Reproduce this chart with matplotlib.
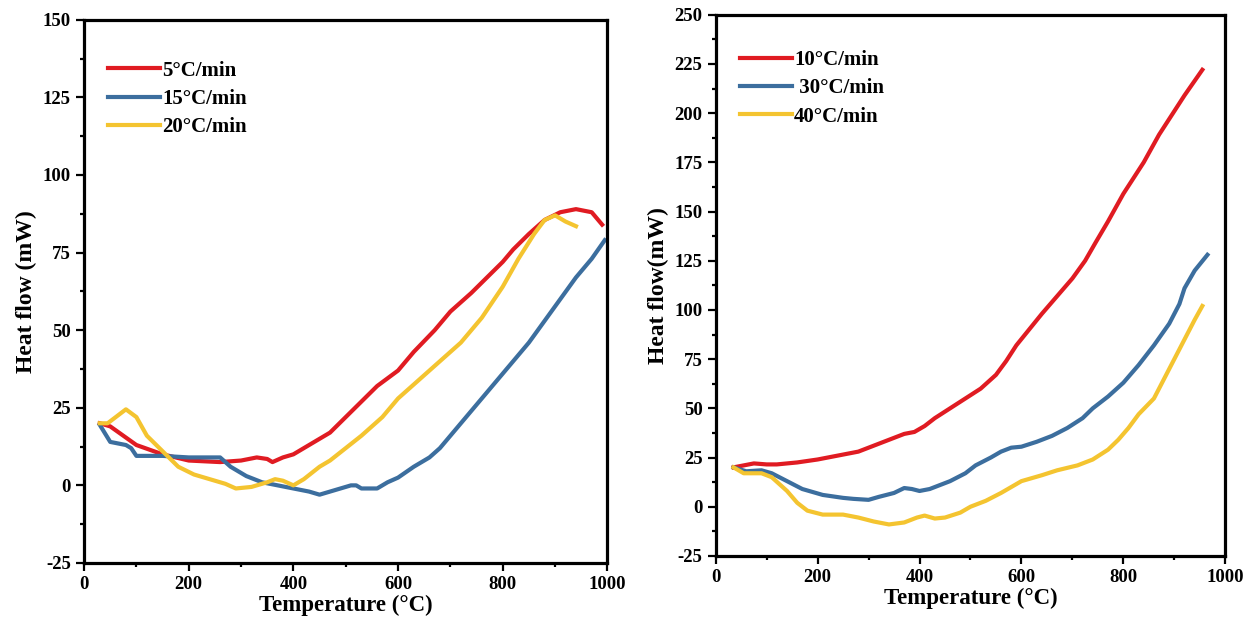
import numpy as np
import matplotlib
matplotlib.use("Agg")
import matplotlib.pyplot as plt
from matplotlib.ticker import MultipleLocator

plt.rcParams["font.family"] = ["Liberation Serif", "DejaVu Serif"]
plt.rcParams["font.weight"] = "bold"
plt.rcParams["axes.unicode_minus"] = False

RED = "#e01b22"
BLUE = "#3c6e9e"
YELLOW = "#f4c430"

# Left panel: 5, 15, 20 C/min
t_5 = [30, 50, 100, 150, 200, 260, 300, 330, 350, 360, 380, 400, 440, 470, 500, 530, 560,
       600, 630, 670, 700, 740, 770, 800, 820, 850, 880, 910, 940, 970, 990]
hf_5 = [20, 19, 13, 10, 8, 7.5, 8, 9, 8.5, 7.5, 9, 10, 14, 17, 22, 27, 32,
        37, 43, 50, 56, 62, 67, 72, 76, 81, 85.5, 88, 89, 88, 84]

t_15 = [30, 50, 80, 90, 100, 150, 200, 260, 280, 310, 340, 370, 400, 430, 450, 470, 490,
        510, 520, 530, 560, 580, 600, 630, 660, 680, 710, 740, 770, 800, 820, 850, 880,
        910, 940, 970, 995]
hf_15 = [19.5, 14, 13, 12, 9.5, 9.5, 9, 9, 6, 3, 1, 0, -1, -2, -3, -2, -1,
         0, 0, -1, -1, 1, 2.5, 6, 9, 12, 18, 24, 30, 36, 40, 46, 53,
         60, 67, 73, 79]

t_20 = [30, 45, 80, 100, 120, 150, 180, 210, 240, 270, 290, 320, 350, 365, 380, 400, 420,
        450, 470, 500, 530, 570, 600, 640, 680, 720, 760, 800, 830, 860, 880, 900, 920, 940]
hf_20 = [20, 20, 24.5, 22, 16, 11, 6, 3.5, 2, 0.5, -1, -0.5, 1, 2, 1.5, 0, 2,
         6, 8, 12, 16, 22, 28, 34, 40, 46, 54, 64, 73, 81, 85.5, 87, 85, 83.5]

# Right panel: 10, 30, 40 C/min
t_10 = [35, 75, 100, 120, 160, 200, 240, 280, 310, 340, 370, 390, 410, 430, 460, 490, 520,
        550, 570, 590, 615, 640, 670, 700, 725, 745, 770, 800, 840, 870, 900, 920, 955]
hf_10 = [20, 22, 21.5, 21.5, 22.5, 24, 26, 28, 31, 34, 37, 38, 41, 45, 50, 55, 60,
         67, 74, 82, 90, 98, 107, 116, 125, 134, 145, 159, 175, 189, 201, 209, 222]

t_30 = [35, 60, 90, 110, 140, 170, 210, 250, 270, 300, 320, 350, 370, 385, 400, 420, 440,
        460, 490, 510, 540, 560, 580, 600, 630, 660, 690, 720, 740, 770, 800, 830, 860,
        890, 910, 920, 940, 965]
hf_30 = [20, 18, 18.5, 17, 13, 9, 6, 4.5, 4, 3.5, 5, 7, 9.5, 9, 8, 9, 11,
         13, 17, 21, 25, 28, 30, 30.5, 33, 36, 40, 45, 50, 56, 63, 72, 82,
         93, 103, 111, 120, 128]

t_40 = [35, 55, 90, 110, 140, 160, 180, 210, 250, 280, 310, 340, 370, 395, 410, 430, 450,
        480, 500, 530, 560, 580, 600, 640, 670, 710, 740, 770, 790, 810, 830, 860, 880,
        900, 920, 940, 955]
hf_40 = [20, 17, 17, 15, 8, 2, -2, -4, -4, -5.5, -7.5, -9, -8, -5.5, -4.5, -6, -5.5,
         -3, 0, 3, 7, 10, 13, 16, 18.5, 21, 24, 29, 34, 40, 47, 55, 65,
         75, 85, 95, 102]


def style_axes(ax, ylim, ymajor, ylabel, anchor):
    ax.set_xlim(0, 1000)
    ax.set_ylim(*ylim)
    ax.xaxis.set_major_locator(MultipleLocator(200))
    ax.xaxis.set_minor_locator(MultipleLocator(100))
    ax.yaxis.set_major_locator(MultipleLocator(ymajor))
    ax.yaxis.set_minor_locator(MultipleLocator(ymajor / 2))
    ax.tick_params(which="both", direction="out", top=False, right=False,
                   labelsize=13.5, width=1.6)
    ax.tick_params(which="major", length=6)
    ax.tick_params(which="minor", length=3)
    for sp in ax.spines.values():
        sp.set_linewidth(2.3)
    for lab in ax.get_xticklabels() + ax.get_yticklabels():
        lab.set_fontweight("bold")
    ax.set_xlabel("Temperature (°C)", fontsize=16.5, fontweight="bold", labelpad=1)
    ax.set_ylabel(ylabel, fontsize=17, fontweight="bold")
    ax.legend(loc="upper left", bbox_to_anchor=anchor, borderaxespad=0,
              frameon=False, handlelength=2.5, handletextpad=0.1,
              labelspacing=0.4, prop={"weight": "bold", "size": 15})


fig = plt.figure(figsize=(12.49, 6.39), dpi=100, facecolor="white")
ax1 = fig.add_axes([0.0673, 0.119, 0.419, 0.85])
ax2 = fig.add_axes([0.573, 0.130, 0.408, 0.847])

ax1.plot(t_5, hf_5, color=RED, lw=3, label="5°C/min")
ax1.plot(t_15, hf_15, color=BLUE, lw=3, label="15°C/min")
ax1.plot(t_20, hf_20, color=YELLOW, lw=3, label="20°C/min")
style_axes(ax1, (-25, 150), 25, "Heat flow (mW)", (0.03, 0.94))

ax2.plot(t_10, hf_10, color=RED, lw=3, label="10°C/min")
ax2.plot(t_30, hf_30, color=BLUE, lw=3, label=" 30°C/min")
ax2.plot(t_40, hf_40, color=YELLOW, lw=3, label="40°C/min")
style_axes(ax2, (-25, 250), 25, "Heat flow(mW)", (0.031, 0.95))

fig.savefig("out.png", dpi=100)
